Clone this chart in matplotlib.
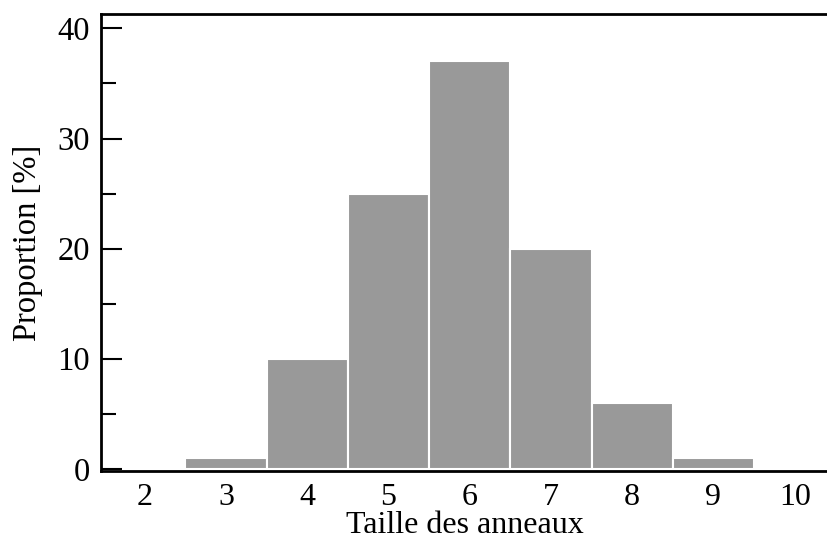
import matplotlib
matplotlib.use('Agg')
from matplotlib import pyplot as plt
from matplotlib.ticker import MultipleLocator

plt.rcParams['font.family'] = ['Liberation Serif', 'DejaVu Serif']

# data
tailles = [3, 4, 5, 6, 7, 8, 9]
proportion = [1, 10, 25, 37, 20, 6, 1]
xticks = [2, 3, 4, 5, 6, 7, 8, 9, 10]

fig = plt.figure(figsize=(8.28, 5.43), dpi=100)
ax = fig.add_axes([0.122, 0.1326, 0.878, 0.8414])

ax.bar(tailles, proportion, width=1.0, color='#999999', edgecolor='white', linewidth=1.5, zorder=2)

ax.set_xlim(1.46, 10.41)
ax.set_ylim(-0.2, 41.3)
ax.set_xticks(xticks)
ax.set_xticklabels([str(v) for v in xticks])
ax.yaxis.set_major_locator(MultipleLocator(10))
ax.yaxis.set_minor_locator(MultipleLocator(5))

ax.spines['right'].set_visible(False)
for s in ['left', 'bottom', 'top']:
    ax.spines[s].set_linewidth(2)

ax.tick_params(axis='y', which='major', direction='in', length=15, width=1.5, labelsize=23.5, pad=8)
ax.tick_params(axis='y', which='minor', direction='in', length=11, width=1.5)
ax.tick_params(axis='x', which='major', length=0, labelsize=23, pad=9)

ax.set_xlabel('Taille des anneaux', fontsize=23, labelpad=-1)
ax.set_ylabel('Proportion [%]', fontsize=23.5, labelpad=10)

fig.savefig('out.png', dpi=100)
plt.close(fig)
